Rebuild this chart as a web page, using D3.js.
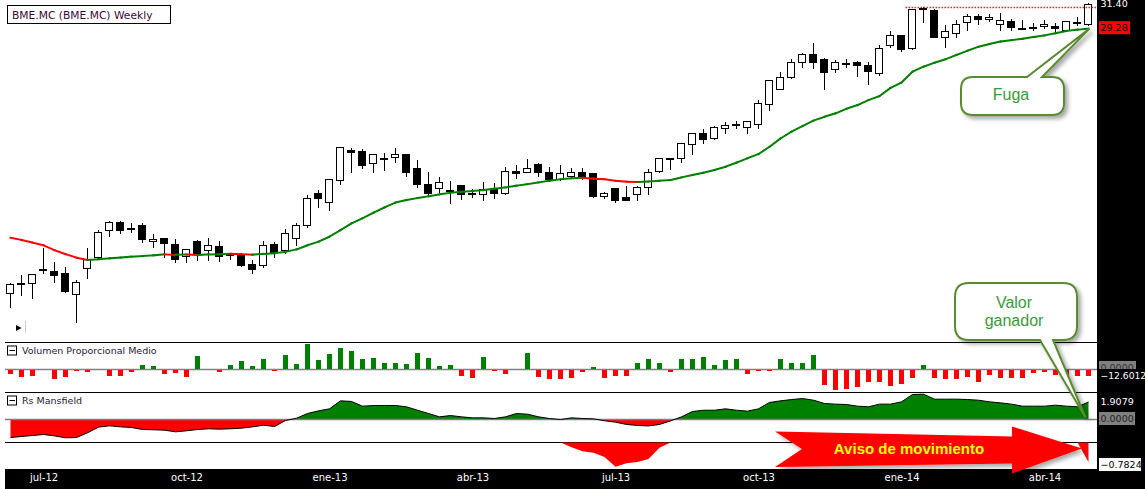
<!DOCTYPE html>
<html><head><meta charset="utf-8">
<script src="https://cdn.jsdelivr.net/npm/d3@7"></script>
<style>html,body{margin:0;padding:0;background:#fff;overflow:hidden}svg{display:block}</style>
</head><body><svg id="c" width="1145" height="489"></svg>
<script>
// ---------- DATA ----------
const title = "BME.MC (BME.MC) Weekly";
const dates = d3.timeMonday.range(new Date(2012, 5, 11), new Date(2014, 4, 1)); // weekly candles

const open = [14.04,14.40,14.45,15.00,14.94,14.84,14.00,15.05,15.52,16.72,
17.10,16.83,16.97,16.22,16.35,16.10,15.59,16.22,15.85,16.00,
15.66,15.60,15.23,15.20,16.10,15.85,16.38,16.98,18.53,18.07,
19.21,20.92,20.85,20.14,20.43,20.48,20.65,19.87,19.00,18.79,
18.66,18.95,18.55,18.48,18.77,18.56,19.73,19.68,20.10,19.68,
19.27,19.46,19.65,19.59,18.41,18.79,18.33,18.48,18.84,19.73,
20.43,20.43,21.23,21.89,21.59,22.20,22.44,22.26,22.45,23.73,
24.74,25.58,26.67,27.29,26.89,26.16,26.59,26.67,26.47,25.86,
27.97,28.75,27.73,30.99,30.84,28.64,28.95,29.85,30.33,30.07,
29.64,29.93,29.31,29.43,29.52,29.52,29.14,29.84,29.68];
const high = [14.44,14.77,14.81,15.91,15.31,15.09,14.56,15.91,16.73,17.15,
17.15,17.07,17.05,16.53,16.37,16.31,15.89,16.28,16.35,16.22,
15.72,15.72,15.40,16.22,16.17,16.78,17.05,18.44,18.70,19.30,
21.08,21.00,20.94,20.67,20.73,21.02,20.67,20.33,19.68,19.37,
19.18,18.96,18.74,19.10,19.05,19.92,20.05,20.37,20.14,19.95,
20.05,19.87,19.87,19.60,18.61,18.82,18.91,18.91,19.81,20.44,
20.45,21.30,21.90,22.14,22.32,22.61,22.65,22.66,24.01,25.38,
25.94,26.92,27.35,28.11,26.96,26.84,26.89,26.77,26.71,27.99,
29.08,28.80,30.95,31.12,30.90,29.58,29.99,30.47,30.47,30.47,
30.56,30.07,30.03,29.72,30.03,29.76,29.92,30.27,31.42];
const low = [13.52,13.97,13.87,14.86,14.49,14.10,12.97,14.63,15.43,16.47,
16.58,16.65,16.20,15.98,15.54,15.30,15.33,15.40,15.40,15.37,
15.43,15.15,14.86,15.12,15.54,15.69,16.05,16.89,17.85,17.69,
19.01,19.68,19.87,19.66,19.77,20.22,19.45,18.88,18.44,18.61,
18.05,18.22,18.33,18.19,18.31,18.49,19.32,19.66,19.46,19.19,
19.23,19.37,19.28,18.34,18.28,18.11,18.17,18.19,18.49,19.68,
19.81,20.23,20.67,21.33,21.57,21.89,22.24,21.89,22.20,23.36,
24.73,25.51,26.30,26.23,24.76,25.98,26.35,25.69,25.08,25.74,
27.85,27.50,27.70,29.80,28.58,27.85,28.64,29.14,29.64,29.91,
29.14,29.14,29.29,29.14,29.31,29.04,29.06,29.58,29.55];
const close = [14.41,14.43,14.80,15.02,14.77,14.14,14.47,15.43,16.65,17.10,
16.75,16.85,16.34,16.34,16.16,15.46,15.86,15.65,16.04,15.57,
15.65,15.19,15.03,16.04,15.75,16.58,16.96,18.28,18.31,19.27,
21.06,20.80,20.06,20.65,20.45,20.65,19.68,19.01,18.56,19.10,
18.68,18.48,18.57,18.74,18.53,19.73,19.62,19.87,19.68,19.28,
19.62,19.65,19.37,18.41,18.53,18.19,18.19,18.87,19.64,20.43,
20.44,21.29,21.89,21.53,22.30,22.41,22.46,22.65,23.79,25.37,
25.58,26.67,27.29,26.67,25.98,26.67,26.61,26.45,26.00,27.73,
28.80,27.70,30.93,30.90,28.59,29.08,29.64,30.36,30.07,30.27,
29.99,29.44,29.32,29.45,29.66,29.31,29.91,29.86,31.40];
const ma30 = [16.38,16.28,16.16,16.04,15.82,15.65,15.50,15.40,15.43,15.47,
15.50,15.54,15.57,15.60,15.64,15.62,15.63,15.61,15.64,15.65,
15.67,15.65,15.63,15.66,15.69,15.75,15.86,16.04,16.20,16.43,
16.73,17.05,17.29,17.56,17.82,18.06,18.19,18.29,18.38,18.48,
18.56,18.61,18.65,18.70,18.77,18.84,18.93,19.01,19.10,19.19,
19.27,19.32,19.35,19.30,19.27,19.19,19.14,19.12,19.15,19.19,
19.23,19.37,19.50,19.62,19.77,19.95,20.18,20.43,20.67,21.09,
21.58,21.99,22.34,22.68,22.92,23.14,23.44,23.68,24.01,24.28,
24.83,25.21,25.98,26.35,26.64,26.89,27.22,27.54,27.85,28.06,
28.25,28.36,28.47,28.61,28.74,28.91,29.09,29.20,29.28];
const volProp = [-8.2,-13.8,-12,0,-17.6,-13.8,-2.5,-4.4,0,-12,
-12,-4.4,6.3,4.4,-8.2,-6.3,-13.8,23.3,0,-4.4,
6.3,13.8,4.4,17.6,-2.5,25.2,8.2,46,15.7,27,
38.4,32.7,17.6,19.5,10,10,8.2,29,19.5,4.4,
6.3,-12,-15.7,21.4,-2.5,-8.2,0,29,-13.8,-17.6,
-17.6,-15.7,-4.4,2.5,-15.7,-12,-12,10,17.6,10,
-4.4,17.6,17.6,21.4,6.3,15.7,17.6,-8.2,-2.5,-2.5,
17.6,10,10,25.2,-29.6,-39,-36.5,-32.7,-23.9,-23.9,
-30.2,-27,-15.7,6.3,-15.7,-17.6,-17.6,-13.8,-23.3,-10,
-15.7,-15.7,-15.7,-6.3,-4.4,-10.7,-15.7,-12,-12.6012];
const rsMansfield = [-1.96,-1.85,-1.74,-1.63,-1.78,-1.99,-1.96,-1.45,-0.83,-0.69,
-0.80,-0.87,-1.09,-1.12,-1.16,-1.34,-1.23,-1.09,-1.01,-1.05,
-1.01,-0.94,-0.80,-0.62,-0.76,-0.11,0.14,0.65,0.94,1.16,
2.03,1.96,1.45,1.52,1.52,1.52,1.38,1.01,0.65,0.29,
0.43,0.29,0.18,0.18,0.11,0.29,0.65,0.58,0.29,0.11,
0,0.18,0.11,0.07,-0.14,-0.29,-0.54,-0.65,-0.70,-0.54,
-0.15,0.29,0.87,1.01,1.01,1.16,1.01,0.91,1.16,1.85,
2.03,2.17,2.28,2.10,1.74,1.67,1.63,1.45,1.38,1.67,
1.67,1.92,2.72,2.75,2.21,2.21,2.21,2.17,2.10,1.92,
1.81,1.67,1.45,1.45,1.45,1.56,1.45,1.38,1.9079];
const warning = [0,0,0,0,0,0,0,0,0,0,
0,0,0,0,0,0,0,0,0,0,
0,0,0,0,0,0,0,0,0,0,
0,0,0,0,0,0,0,0,0,0,
0,0,0,0,0,0,0,0,0,0,
0,-0.19,-0.35,-0.41,-0.58,-0.97,-0.83,-0.78,-0.66,-0.21,
0,0,0,0,0,0,0,0,0,0,
0,0,0,0,0,0,0,0,0,0,
0,0,0,0,0,0,0,0,0,0,
0,0,0,0,0,0,0,0,-0.7824];
const tickDates = ["2012-07-02","2012-10-01","2012-12-31","2013-04-01","2013-07-01","2013-09-30","2013-12-30","2014-03-31"];
const tickLabels = ["jul-12","oct-12","ene-13","abr-13","jul-13","oct-13","ene-14","abr-14"];
const panelLabels = ["Volumen Proporcional Medio", "Rs Mansfield"];
const callouts = ["Fuga", ["Valor", "ganador"], "Aviso de movimiento"];

// ---------- LAYOUT ----------
const W = 1145, H = 489, PL = 5, PR = 1097;
const svg = d3.select("#c");
const n = dates.length;
const x = d3.scalePoint().domain(dates).range([10.5, 1088.5]);
const X = i => x(dates[i]);
const y = d3.scaleLog().domain([12.21, 31.40]).range([343.5, 3.5]);
const yv = d3.scaleLinear().domain([-45, 45]).range([392.35, 344.65]);
const yr = d3.scaleLinear().domain([-2.5, 2.5]).range([442.5, 396.5]);
const yt = d3.scaleLinear().domain([-1, 0]).range([467.5, 442.5]);
const UI = "'DejaVu Sans', Verdana, sans-serif";
const ARIAL = "'Liberation Sans', Arial, sans-serif";

const defs = svg.append("defs");
defs.append("clipPath").attr("id","cMain").append("rect").attr("x",0).attr("y",0).attr("width",PR).attr("height",342);
defs.append("clipPath").attr("id","cPos").append("rect").attr("x",0).attr("y",393).attr("width",PR).attr("height",yr(0)-393);
defs.append("clipPath").attr("id","cNeg").append("rect").attr("x",0).attr("y",yr(0)).attr("width",PR).attr("height",442-yr(0));
const f = defs.append("filter").attr("id","shadow").attr("x","-20%").attr("y","-20%").attr("width","150%").attr("height","150%");
f.append("feDropShadow").attr("dx",3).attr("dy",3).attr("stdDeviation",2).attr("flood-color","#000").attr("flood-opacity",0.35);

svg.append("rect").attr("width",W).attr("height",H).attr("fill","#fff");

// ---------- MAIN PANEL ----------
const gMain = svg.append("g").attr("clip-path","url(#cMain)");
const idx = d3.range(n);
const gc = gMain.append("g").attr("shape-rendering","crispEdges");
gc.selectAll("line.w").data(idx).join("line")
  .attr("x1", X).attr("x2", X)
  .attr("y1", i => Math.round(y(high[i]))).attr("y2", i => Math.round(y(low[i])) + 1)
  .attr("stroke","#000").attr("stroke-width",1);
gc.selectAll("rect.b").data(idx).join("rect")
  .attr("x", i => X(i) - 4).attr("width", 7)
  .attr("y", i => Math.round(y(Math.max(open[i], close[i]))) + 0.5)
  .attr("height", i => Math.max(1, Math.round(y(Math.min(open[i], close[i]))) - Math.round(y(Math.max(open[i], close[i])))))
  .attr("fill", i => close[i] >= open[i] ? "#fff" : "#000")
  .attr("stroke","#000").attr("stroke-width",1);

// moving average, red while falling, green while rising
const maLine = d3.line().x(d => X(d)).y(d => y(ma30[d]));
gMain.append("g").selectAll("path").data(idx.slice(1)).join("path")
  .attr("d", i => maLine([i - 1, i]))
  .attr("fill","none").attr("stroke-width",2).attr("stroke-linecap","square")
  .attr("stroke", i => ma30[i] < ma30[i - 1] ? "#ff0000" : "#008000");

// resistance (previous high) dotted line
const resist = d3.max(high.slice(0, n - 1));
const iRes = high.indexOf(resist);
gMain.append("line").attr("x1", X(iRes - 1) - 7).attr("x2", PR)
  .attr("y1", Math.round(y(resist)) + 0.5).attr("y2", Math.round(y(resist)) + 0.5)
  .attr("stroke","#ff2020").attr("stroke-width",1.5).attr("stroke-dasharray","1.5,1.5");

// title box
svg.append("rect").attr("x",7.5).attr("y",5.5).attr("width",163).attr("height",18)
  .attr("fill","#fff").attr("stroke","#000").attr("stroke-width",1);
svg.append("text").attr("x",12).attr("y",18.5).attr("font-family",UI).attr("font-size",10.7)
  .attr("fill","#3a0a3a").text(title);
// small play icon
svg.append("path").attr("d","M16,325 L21.5,328 L16,331 Z").attr("fill","#000");
svg.append("line").attr("x1",25.5).attr("x2",25.5).attr("y1",321).attr("y2",333).attr("stroke","#ccc");

// ---------- PANEL SEPARATORS ----------
[342.5, 392.5, 442.5, 469.5].forEach(v => svg.append("line").attr("x1",PL).attr("x2",PR).attr("y1",v).attr("y2",v).attr("stroke","#000"));

// ---------- VOLUME PANEL ----------
svg.append("line").attr("x1",PL).attr("x2",PR).attr("y1",Math.round(yv(0))+0.5).attr("y2",Math.round(yv(0))+0.5).attr("stroke","#808080").attr("stroke-width",1.5);
svg.append("g").attr("shape-rendering","crispEdges").selectAll("rect").data(idx.filter(i => volProp[i] !== 0)).join("rect")
  .attr("x", i => X(i) - 2.5).attr("width", 5)
  .attr("y", i => volProp[i] > 0 ? Math.round(yv(volProp[i])) : Math.round(yv(0)) + 1)
  .attr("height", i => Math.abs(Math.round(yv(volProp[i])) - Math.round(yv(0))))
  .attr("fill", i => volProp[i] > 0 ? "#008000" : "#ff0000");

function panelLabel(yTop, label) {
  svg.append("rect").attr("x",7.5).attr("y",yTop+0.5).attr("width",9).attr("height",9).attr("fill","#fff").attr("stroke","#000");
  svg.append("line").attr("x1",9.5).attr("x2",15).attr("y1",yTop+5).attr("y2",yTop+5).attr("stroke","#000");
  svg.append("text").attr("x",22).attr("y",yTop+8.7).attr("font-family",UI).attr("font-size",9.5).attr("fill","#28183c").text(label);
}
panelLabel(345.5, panelLabels[0]);

// ---------- RS MANSFIELD PANEL ----------
const rsArea = d3.area().x(d => X(d)).y0(yr(0)).y1(d => yr(rsMansfield[d]));
svg.append("path").attr("d", rsArea(idx)).attr("fill","#008000").attr("clip-path","url(#cPos)");
svg.append("path").attr("d", rsArea(idx)).attr("fill","#ff0000").attr("clip-path","url(#cNeg)");
svg.append("line").attr("x1",PL).attr("x2",PR).attr("y1",yr(0)).attr("y2",yr(0)).attr("stroke","#808080").attr("stroke-width",1.5);
svg.append("path").attr("d", d3.line().x(d => X(d)).y(d => yr(rsMansfield[d]))(idx))
  .attr("fill","none").attr("stroke","#000").attr("stroke-width",1);
panelLabel(395.5, panelLabels[1]);

// ---------- WARNING PANEL ----------
svg.append("path").attr("d", d3.area().x(d => X(d)).y0(yt(0)).y1(d => yt(warning[d]))(idx)).attr("fill","#ff0000");

// ---------- RIGHT AXIS & BOTTOM BAND ----------
svg.append("rect").attr("x",PR).attr("y",0).attr("width",W-PR).attr("height",H).attr("fill","#000");
svg.append("rect").attr("x",PL).attr("y",469).attr("width",W-PL).attr("height",H-469).attr("fill","#000");

const fmt2 = d3.format(".2f"), fmt4 = d3.format(".4f");
function rLabel(yy, txt, bg, fg, w, fs, h) {
  const hh = h || 13;
  if (bg) svg.append("rect").attr("x",1099).attr("y",yy-6.5).attr("width",w).attr("height",hh).attr("fill",bg);
  svg.append("text").attr("x",1100.5).attr("y",yy+3.5).attr("font-family",UI).attr("font-size",fs || 9.5).attr("fill",fg).text(txt);
}
rLabel(y(close[n-1]), fmt2(close[n-1]), null, "#fff");
rLabel(y(ma30[n-1]) - 1, fmt2(ma30[n-1]), "#ff0000", "#000", 31);
rLabel(yv(0) - 1, fmt4(0), "#808080", "#303030", 37, 9.5, 8);
rLabel(yv(volProp[n-1]) + 0.5, fmt4(volProp[n-1]), "#000", "#fff", 46, 9.2);
rLabel(yr(rsMansfield[n-1]), fmt4(rsMansfield[n-1]), null, "#fff");
rLabel(yr(0) - 1, fmt4(0), "#808080", "#202020", 36);
rLabel(Math.min(yt(warning[n-1]) + 3, 464.5), fmt4(warning[n-1]), "#fff", "#000", 42);

// x axis
const xAxis = d3.axisBottom(x).tickValues(tickDates.map(d3.timeParse("%Y-%m-%d")))
  .tickFormat((d, i) => tickLabels[i]).tickSize(0).tickPadding(4);
const gx = svg.append("g").attr("transform","translate(0,470)").call(xAxis);
gx.select(".domain").remove();
gx.selectAll("text").attr("fill","#fff").attr("font-family",UI).attr("font-size",10);

// ---------- ANNOTATIONS ----------
function roundBox(x0, y0, x1, y1, r, ptr) {
  let p = `M${x0+r},${y0}`;
  if (ptr && ptr.side === "top") p += `L${ptr.a},${y0}L${ptr.tx},${ptr.ty}L${ptr.b},${y0}`;
  p += `L${x1-r},${y0}Q${x1},${y0} ${x1},${y0+r}L${x1},${y1-r}Q${x1},${y1} ${x1-r},${y1}`;
  if (ptr && ptr.side === "bottom") p += `L${ptr.b},${y1}L${ptr.tx},${ptr.ty}L${ptr.a},${y1}`;
  p += `L${x0+r},${y1}Q${x0},${y1} ${x0},${y1-r}L${x0},${y0+r}Q${x0},${y0} ${x0+r},${y0}Z`;
  return p;
}
// Fuga
svg.append("path").attr("d", roundBox(961, 77, 1064, 115, 12, {side:"top", a:1027, b:1042, tx:X(n-1)+1, ty:y(ma30[n-1])}))
  .attr("fill","#fff").attr("stroke","#5a8a32").attr("stroke-width",2).attr("filter","url(#shadow)");
svg.append("text").attr("x",1011).attr("y",100).attr("text-anchor","middle").attr("font-family",ARIAL)
  .attr("font-size",16).attr("fill","#3a9a3a").text(callouts[0]);
// Valor ganador
svg.append("path").attr("d", roundBox(955, 283, 1077, 340, 14, {side:"bottom", a:1040, b:1053, tx:X(n-1)-3, ty:yr(0)-2}))
  .attr("fill","#fff").attr("stroke","#5a8a32").attr("stroke-width",2).attr("filter","url(#shadow)");
svg.append("text").attr("x",1014).attr("y",308).attr("text-anchor","middle").attr("font-family",ARIAL)
  .attr("font-size",16).attr("fill","#3a9a3a").text(callouts[1][0]);
svg.append("text").attr("x",1014).attr("y",325.5).attr("text-anchor","middle").attr("font-family",ARIAL)
  .attr("font-size",16).attr("fill","#3a9a3a").text(callouts[1][1]);
// big arrow
svg.append("path").attr("d","M775,431.5 L1012,436.5 L1012,426.5 L1082,448.5 L1012,473.5 L1012,463.5 L775,467 L802,449 Z")
  .attr("fill","#ff0000").attr("filter","url(#shadow)");
svg.append("text").attr("x",909).attr("y",454).attr("text-anchor","middle").attr("font-family",ARIAL)
  .attr("font-size",15).attr("font-weight","bold").attr("fill","#ffff00").text(callouts[2]);
</script></body></html>
